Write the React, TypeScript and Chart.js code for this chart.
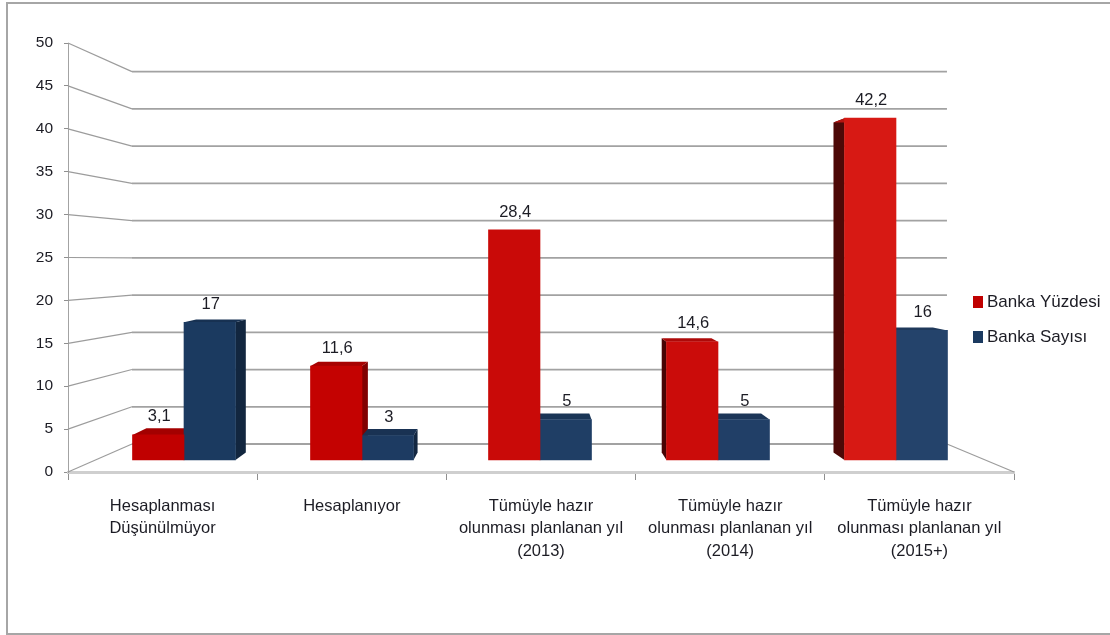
import React, { useEffect, useRef } from "react";
import { Chart, registerables } from "chart.js";

Chart.register(...registerables);

// Survey results per readiness stage
const categories = [
  ["Hesaplanması", "Düşünülmüyor"],
  "Hesaplanıyor",
  ["Tümüyle hazır", "olunması planlanan yıl", "(2013)"],
  ["Tümüyle hazır", "olunması planlanan yıl", "(2014)"],
  ["Tümüyle hazır", "olunması planlanan yıl", "(2015+)"],
];
const seriesNames = ["Banka Yüzdesi", "Banka Sayısı"];
const bankaYuzdesi = [3.1, 11.6, 28.4, 14.6, 42.2];
const bankaSayisi = [17, 3, 5, 5, 16];

const redShades = ["#c00000", "#c40201", "#c90a08", "#cb0c0a", "#d71914"];
const blueShades = ["#1b3a60", "#1d3b62", "#1f3e65", "#213f67", "#24436b"];

const FONT = "'Liberation Sans', Arial, sans-serif";
const TEXT = "#1c1c24";

// Perspective of the 3D box: vanishing point and depth fractions
const VANISH_X = 530;
const WALL_VANISH_Y = 260;
const WALL_KX = 0.1385;
const WALL_KY = 0.132;
const BAR_VANISH_Y = 245;
const BAR_K = 0.035;

function shade(hex: string, f: number) {
  const n = parseInt(hex.slice(1), 16);
  const c = (v: number) => Math.round(v * f);
  return `rgb(${c((n >> 16) & 255)},${c((n >> 8) & 255)},${c(n & 255)})`;
}

function poly(ctx: CanvasRenderingContext2D, pts: number[][], fill: string) {
  ctx.beginPath();
  pts.forEach(([x, y], i) => (i ? ctx.lineTo(x, y) : ctx.moveTo(x, y)));
  ctx.closePath();
  ctx.fillStyle = fill;
  ctx.fill();
}

const framePlugin = {
  id: "frame",
  beforeDraw(chart: any) {
    const { ctx, width, height } = chart;
    ctx.save();
    ctx.fillStyle = "#fff";
    ctx.fillRect(0, 0, width, height);
    ctx.strokeStyle = "#a6a6a6";
    ctx.lineWidth = 2;
    ctx.beginPath();
    ctx.moveTo(width, 3);
    ctx.lineTo(7, 3);
    ctx.lineTo(7, 634);
    ctx.lineTo(width, 634);
    ctx.stroke();
    ctx.restore();
  },
};

// Moves the legend over the free area right of the box
const legendPlacement = {
  id: "legendPlacement",
  afterLayout(chart: any) {
    const legend = chart.legend;
    legend.left = 959.5;
    legend.right = 1110;
    legend.top = 275.5;
    legend.bottom = 400;
    legend.adjustHitBoxes();
  },
};

const wallsPlugin = {
  id: "walls",
  beforeDatasetsDraw(chart: any) {
    const { ctx, scales } = chart;
    const y = scales.y;
    const x = scales.x;
    const left = x.left;
    const right = x.right;
    const backX = (p: number) => p + (VANISH_X - p) * WALL_KX;
    const backY = (p: number) => p + (WALL_VANISH_Y - p) * WALL_KY;
    ctx.save();
    y.ticks.forEach((t: any) => {
      const py = y.getPixelForValue(t.value);
      ctx.strokeStyle = "#9c9c9c";
      ctx.lineWidth = 1.2;
      ctx.beginPath();
      ctx.moveTo(left, py);
      ctx.lineTo(backX(left), backY(py));
      ctx.stroke();
      ctx.strokeStyle = "#a2a2a2";
      ctx.lineWidth = 1.8;
      ctx.beginPath();
      ctx.moveTo(backX(left), backY(py));
      ctx.lineTo(backX(right), backY(py));
      ctx.stroke();
    });
    const base = y.getPixelForValue(0);
    ctx.strokeStyle = "#9c9c9c";
    ctx.lineWidth = 1.2;
    ctx.beginPath();
    ctx.moveTo(right, base);
    ctx.lineTo(backX(right), backY(base));
    ctx.stroke();
    ctx.restore();
  },
};

const depthPlugin = {
  id: "barDepth",
  beforeDatasetsDraw(chart: any) {
    const { ctx } = chart;
    const back = (px: number, py: number) => [
      px + (VANISH_X - px) * BAR_K,
      py + (BAR_VANISH_Y - py) * BAR_K,
    ];
    ctx.save();
    chart.data.datasets.forEach((ds: any, di: number) => {
      const shades = di === 0 ? redShades : blueShades;
      chart.getDatasetMeta(di).data.forEach((bar: any, i: number) => {
        const { x, y, base, width } = bar.getProps(["x", "y", "base", "width"], true);
        const l = x - width / 2;
        const r = x + width / 2;
        const tl = back(l, y);
        const tr = back(r, y);
        const bl = back(l, base);
        const br = back(r, base);
        if (br[0] > r) poly(ctx, [[r, y], tr, br, [r, base]], shade(shades[i], 0.66));
        if (tl[0] < l) poly(ctx, [[l, y], tl, bl, [l, base]], shade(shades[i], 0.36));
        poly(ctx, [[l, y], tl, tr, [r, y]], shade(shades[i], 0.85));
      });
    });
    ctx.restore();
  },
};

const valueLabels = {
  id: "valueLabels",
  afterDatasetsDraw(chart: any) {
    const { ctx } = chart;
    ctx.save();
    ctx.font = `16.5px ${FONT}`;
    ctx.fillStyle = TEXT;
    ctx.textAlign = "center";
    ctx.textBaseline = "middle";
    chart.data.datasets.forEach((ds: any, di: number) => {
      chart.getDatasetMeta(di).data.forEach((bar: any, i: number) => {
        const text = String(ds.data[i].y).replace(".", ",");
        ctx.fillText(text, bar.x + 1, bar.y - 18);
      });
    });
    ctx.restore();
  },
};

export default function App() {
  const ref = useRef<HTMLCanvasElement>(null);

  useEffect(() => {
    document.body.style.margin = "0";
    const toPoints = (vals: number[]) => vals.map((y, x) => ({ x, y }));
    const chart = new Chart(ref.current!, {
      type: "bar",
      data: {
        labels: categories as any,
        datasets: [
          {
            label: seriesNames[0],
            data: toPoints(bankaYuzdesi) as any,
            xAxisID: "xb",
            yAxisID: "yb",
            backgroundColor: (c: any) => redShades[c.dataIndex ?? 0],
            barThickness: 51.5,
            borderWidth: 0,
          },
          {
            label: seriesNames[1],
            data: toPoints(bankaSayisi) as any,
            xAxisID: "xb",
            yAxisID: "yb",
            backgroundColor: (c: any) => blueShades[c.dataIndex ?? 0],
            barThickness: 51.5,
            borderWidth: 0,
          },
        ],
      },
      options: {
        responsive: false,
        animation: false,
        layout: { padding: { top: 43, right: 96, left: 0, bottom: 0 } },
        plugins: {
          tooltip: { enabled: false },
          title: { display: false },
          legend: {
            position: "chartArea" as any,
            align: "start",
            labels: {
              // The swatch is mostly a thick outline, which keeps the text close to it
              boxWidth: 1,
              boxHeight: 3,
              padding: 18,
              color: TEXT,
              font: { family: FONT, size: 17 },
              generateLabels: (chart: any) =>
                seriesNames.map((text, i) => {
                  const colour = i === 0 ? redShades[0] : blueShades[0];
                  return {
                    text,
                    datasetIndex: i,
                    fillStyle: colour,
                    strokeStyle: colour,
                    lineWidth: 9,
                    fontColor: TEXT,
                    hidden: !chart.isDatasetVisible(i),
                  };
                }),
            },
          },
        },
        scales: {
          x: {
            type: "category",
            offset: true,
            grid: { offset: true, drawOnChartArea: false, color: "#8f8f8f", tickLength: 8 },
            border: { color: "#cfcfcf", width: 3 },
            ticks: {
              color: TEXT,
              padding: 15,
              maxRotation: 0,
              autoSkip: false,
              font: { family: FONT, size: 16.5, lineHeight: 1.364 },
            },
            afterFit: (s: any) => {
              s.height = 163;
            },
          },
          y: {
            min: 0,
            max: 50,
            grid: { drawOnChartArea: false, color: "#8f8f8f", tickLength: 4 },
            border: { color: "#a3a3a3", width: 1 },
            ticks: {
              stepSize: 5,
              color: TEXT,
              padding: 11,
              font: { family: FONT, size: 15.5 },
            },
            afterFit: (s: any) => {
              s.width = 68;
            },
          },
          // Plane the bars stand on, slightly inside the front edge of the box
          xb: { type: "linear", display: false, offset: false, min: -0.6517, max: 4.663 },
          yb: { type: "linear", display: false, min: -1.4815, max: 51.48 },
        },
      },
      plugins: [framePlugin, wallsPlugin, depthPlugin, valueLabels, legendPlacement],
    } as any);
    return () => chart.destroy();
  }, []);

  return <canvas ref={ref} width={1110} height={635} style={{ display: "block" }} />;
}
